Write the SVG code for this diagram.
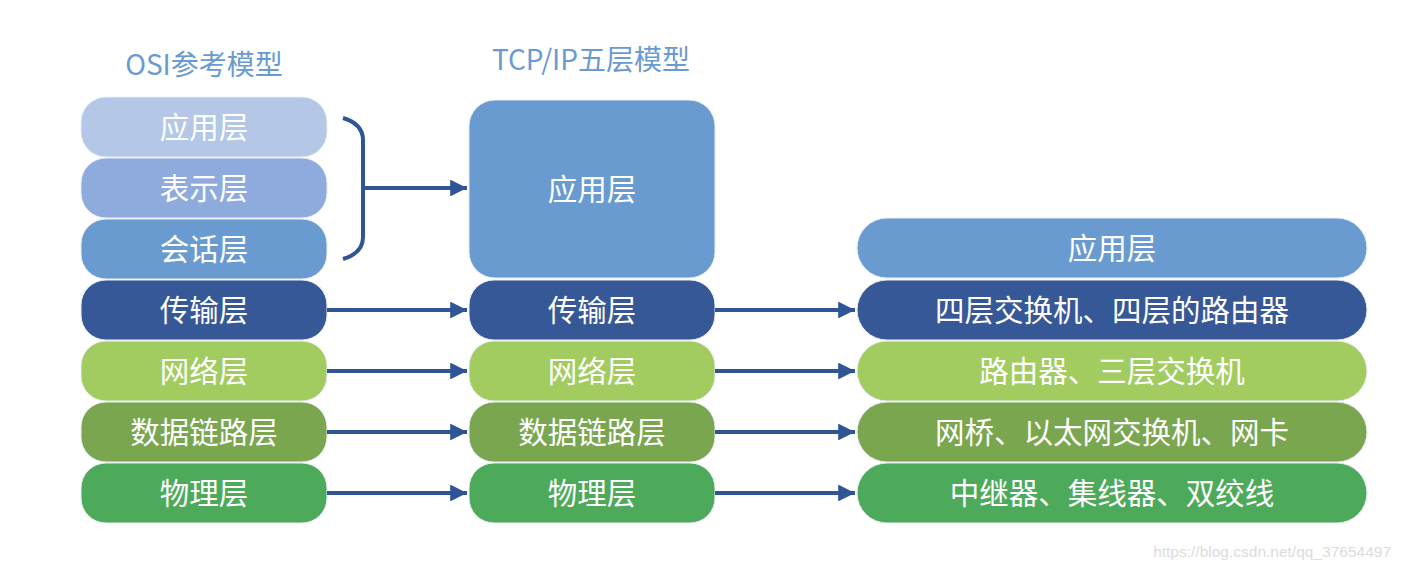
<svg xmlns="http://www.w3.org/2000/svg" width="1402" height="570" viewBox="0 0 1402 570">
<style>
.t{font-family:"Noto Sans CJK SC","Liberation Sans",sans-serif;font-size:29.5px;fill:#fff;text-anchor:middle;dominant-baseline:central}
.h{font-family:"Noto Sans CJK SC","Liberation Sans",sans-serif;font-size:28px;fill:#6A9BD0;text-anchor:middle}
.c{stroke:#2F5597;stroke-width:4;fill:none}
.b{stroke:#e8eef6;stroke-width:1}
</style>
<defs>
<marker id="ah" viewBox="0 0 10 10" refX="10" refY="5" markerWidth="4.2" markerHeight="4.2" markerUnits="strokeWidth" orient="auto">
<path d="M0,0 L10,5 L0,10 z" fill="#2F5597"/>
</marker>
</defs>
<rect width="1402" height="570" fill="#fff"/>
<text class="h" x="204" y="75">OSI参考模型</text>
<text class="h" x="591" y="70">TCP/IP五层模型</text>

<g id="osi-app"><rect class="b" x="81" y="97" width="246" height="60" rx="25" fill="#B4C7E7"/><text class="t" x="204" y="125">应用层</text></g>
<g id="osi-pres"><rect class="b" x="81" y="158" width="246" height="60" rx="25" fill="#8FAADC"/><text class="t" x="204" y="186">表示层</text></g>
<g id="osi-sess"><rect class="b" x="81" y="219" width="246" height="60" rx="25" fill="#6A9BD0"/><text class="t" x="204" y="247">会话层</text></g>
<g id="osi-trans"><rect class="b" x="81" y="280" width="246" height="60" rx="25" fill="#365896"/><text class="t" x="204" y="308">传输层</text></g>
<g id="osi-net"><rect class="b" x="81" y="341" width="246" height="60" rx="25" fill="#A2CC60"/><text class="t" x="204" y="369">网络层</text></g>
<g id="osi-link"><rect class="b" x="81" y="402" width="246" height="60" rx="25" fill="#7AA64F"/><text class="t" x="204" y="430">数据链路层</text></g>
<g id="osi-phy"><rect class="b" x="81" y="463" width="246" height="60" rx="25" fill="#4DAA5B"/><text class="t" x="204" y="491">物理层</text></g>

<g id="tcp-app"><rect class="b" x="469" y="100" width="246" height="178" rx="26" fill="#6A9BD0"/><text class="t" x="592" y="187">应用层</text></g>
<g id="tcp-trans"><rect class="b" x="469" y="280" width="246" height="60" rx="25" fill="#365896"/><text class="t" x="592" y="308">传输层</text></g>
<g id="tcp-net"><rect class="b" x="469" y="341" width="246" height="60" rx="25" fill="#A2CC60"/><text class="t" x="592" y="369">网络层</text></g>
<g id="tcp-link"><rect class="b" x="469" y="402" width="246" height="60" rx="25" fill="#7AA64F"/><text class="t" x="592" y="430">数据链路层</text></g>
<g id="tcp-phy"><rect class="b" x="469" y="463" width="246" height="60" rx="25" fill="#4DAA5B"/><text class="t" x="592" y="491">物理层</text></g>

<g id="dev-app"><rect class="b" x="857" y="218" width="510" height="60" rx="30" fill="#6A9BD0"/><text class="t" x="1112" y="246">应用层</text></g>
<g id="dev-trans"><rect class="b" x="857" y="280" width="510" height="60" rx="30" fill="#365896"/><text class="t" x="1112" y="308">四层交换机、四层的路由器</text></g>
<g id="dev-net"><rect class="b" x="857" y="341" width="510" height="60" rx="30" fill="#A2CC60"/><text class="t" x="1112" y="369">路由器、三层交换机</text></g>
<g id="dev-link"><rect class="b" x="857" y="402" width="510" height="60" rx="30" fill="#7AA64F"/><text class="t" x="1112" y="430">网桥、以太网交换机、网卡</text></g>
<g id="dev-phy"><rect class="b" x="857" y="463" width="510" height="60" rx="30" fill="#4DAA5B"/><text class="t" x="1112" y="491">中继器、集线器、双绞线</text></g>

<g id="connectors">
<path class="c" d="M343,118 Q363,124 363,140 L363,237 Q363,253 343,259"/>
<path class="c" d="M363,188 L467,188" marker-end="url(#ah)"/>
<path class="c" d="M327,310 L467,310" marker-end="url(#ah)"/>
<path class="c" d="M327,371 L467,371" marker-end="url(#ah)"/>
<path class="c" d="M327,432 L467,432" marker-end="url(#ah)"/>
<path class="c" d="M327,493 L467,493" marker-end="url(#ah)"/>
<path class="c" d="M715,310 L855,310" marker-end="url(#ah)"/>
<path class="c" d="M715,371 L855,371" marker-end="url(#ah)"/>
<path class="c" d="M715,432 L855,432" marker-end="url(#ah)"/>
<path class="c" d="M715,493 L855,493" marker-end="url(#ah)"/>
</g>
<text x="1391" y="557" font-family="Liberation Sans, sans-serif" font-size="15.5" fill="#dcdcdc" text-anchor="end">https://blog.csdn.net/qq_37654497</text>
</svg>
